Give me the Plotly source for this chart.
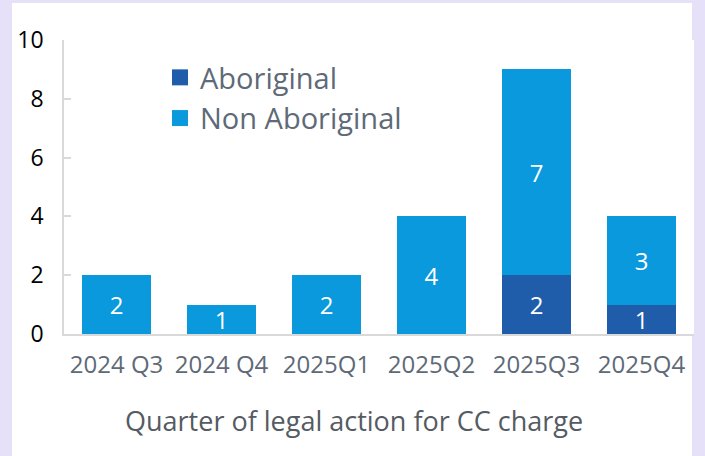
import plotly.graph_objects as go

quarters = ["2024 Q3", "2024 Q4", "2025Q1", "2025Q2", "2025Q3", "2025Q4"]
aboriginal = [0, 0, 0, 0, 2, 1]
non_aboriginal = [2, 1, 2, 4, 7, 3]
series_names = ["Aboriginal", "Non Aboriginal"]
x_title = "Quarter of legal action for CC charge"

FONT = "Open Sans, Noto Sans, sans-serif"
GRAY = "#5E6A77"
COLORS = ["#1F5DAB", "#0A99DC"]

def labels(vals):
    return [str(v) if v else "" for v in vals]

fig = go.Figure()
for name, vals, col in zip(series_names, [aboriginal, non_aboriginal], COLORS):
    fig.add_trace(go.Bar(
        name=name, x=quarters, y=vals, showlegend=False,
        marker=dict(color=col, line=dict(width=0)),
        text=labels(vals), textposition="inside", insidetextanchor="middle",
        textangle=0, constraintext="none",
        textfont=dict(color="white", size=24, family=FONT),
    ))
# legend entries (square swatches)
for name, col in zip(series_names, COLORS):
    fig.add_trace(go.Scatter(
        name=name, x=[None], y=[None], mode="markers",
        marker=dict(symbol="square", size=16, color=col),
        legendgroup=name, showlegend=True,
    ))

W, H = 705, 456
ml, mr, mt, mb = 64, 11, 40, 122
pw, ph = W - ml - mr, H - mt - mb

def px2x(px):
    return (px - ml) / pw

def px2y(py):
    return (H - mb - py) / ph

fig.add_shape(type="rect", xref="paper", yref="paper",
              x0=px2x(12), x1=px2x(692), y0=px2y(470), y1=px2y(3),
              fillcolor="white", line=dict(width=0), layer="below")

fig.add_annotation(text=x_title, xref="paper", yref="paper",
                   x=px2x(354), y=px2y(420), xanchor="center", yanchor="middle",
                   showarrow=False,
                   font=dict(size=27, color="#555B62", family=FONT))

fig.update_layout(
    width=W, height=H,
    margin=dict(l=ml, r=mr, t=mt, b=mb),
    paper_bgcolor="#E6E1F9",
    plot_bgcolor="white",
    barmode="stack",
    bargap=0.35,
    font=dict(family=FONT, color=GRAY),
    showlegend=True,
    legend=dict(
        x=px2x(160), y=px2y(52), xanchor="left", yanchor="top",
        bgcolor="rgba(0,0,0,0)",
        font=dict(size=29, color=GRAY, family=FONT),
        traceorder="grouped", tracegroupgap=0,
        itemwidth=30,
    ),
    xaxis=dict(
        showline=True, linecolor="#D9D9D9", linewidth=1.5,
        ticks="", tickfont=dict(size=24, color=GRAY, family=FONT),
        ticklabelstandoff=8,
    ),
    yaxis=dict(
        range=[0, 10], dtick=2,
        showgrid=False, zeroline=False,
        showline=True, linecolor="#D9D9D9", linewidth=1.5,
        ticks="inside", ticklen=7, tickcolor="#D9D9D9", tickwidth=1.5,
        tickfont=dict(size=23, color="black", family=FONT),
        ticklabelstandoff=14,
    ),
)

fig.write_html("out.html", config={"displayModeBar": False},
               post_script="document.body.style.margin='0';document.body.style.overflow='hidden';")
